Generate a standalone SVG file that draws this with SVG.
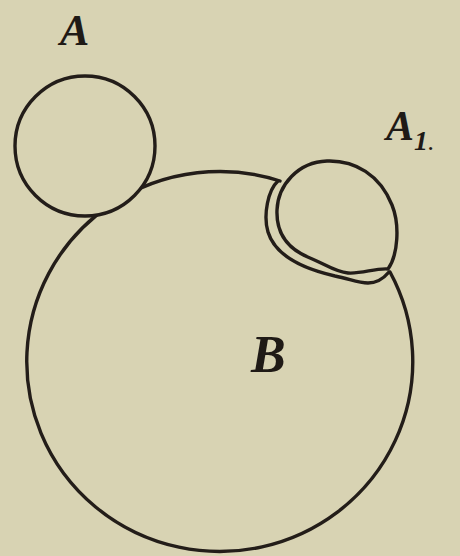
<svg xmlns="http://www.w3.org/2000/svg" width="460" height="556" viewBox="0 0 460 556">
<style>
.ln{fill:none;stroke:#231d19;stroke-width:3.4;stroke-linecap:round;stroke-linejoin:round}
.lb{font-family:"Liberation Serif","DejaVu Serif",serif;font-style:italic;font-weight:bold;fill:#1f1a16}
</style>
<rect width="460" height="556" fill="#d8d3b3"/>
<g id="B">
<path class="ln" d="M 280 181 A 193 190 0 1 0 390 272"/>
<text class="lb" x="251" y="372" font-size="52">B</text>
</g>
<g id="A">
<circle class="ln" cx="85" cy="146" r="70" style="fill:#d8d3b3"/>
<text class="lb" x="60" y="45" font-size="44">A</text>
</g>
<g id="A1">
<path class="ln" d="M 278 181 C 268 190, 263 215, 268 232 C 275 255, 300 268, 335 276 C 350 279, 358 283, 368 283 C 378 283, 384 278, 389 272"/>
<path class="ln" d="M 388 269 C 398 255, 400 225, 392 205 C 380 175, 355 160, 327 161 C 298 162, 278 185, 277 210 C 276 235, 290 250, 310 258 C 325 264, 335 272, 348 273 C 362 274, 375 268, 388 269 Z"/>
<text class="lb" x="386" y="140" font-size="42">A<tspan font-size="28" dy="10">1</tspan><tspan font-size="26" font-weight="normal">.</tspan></text>
</g>
</svg>
